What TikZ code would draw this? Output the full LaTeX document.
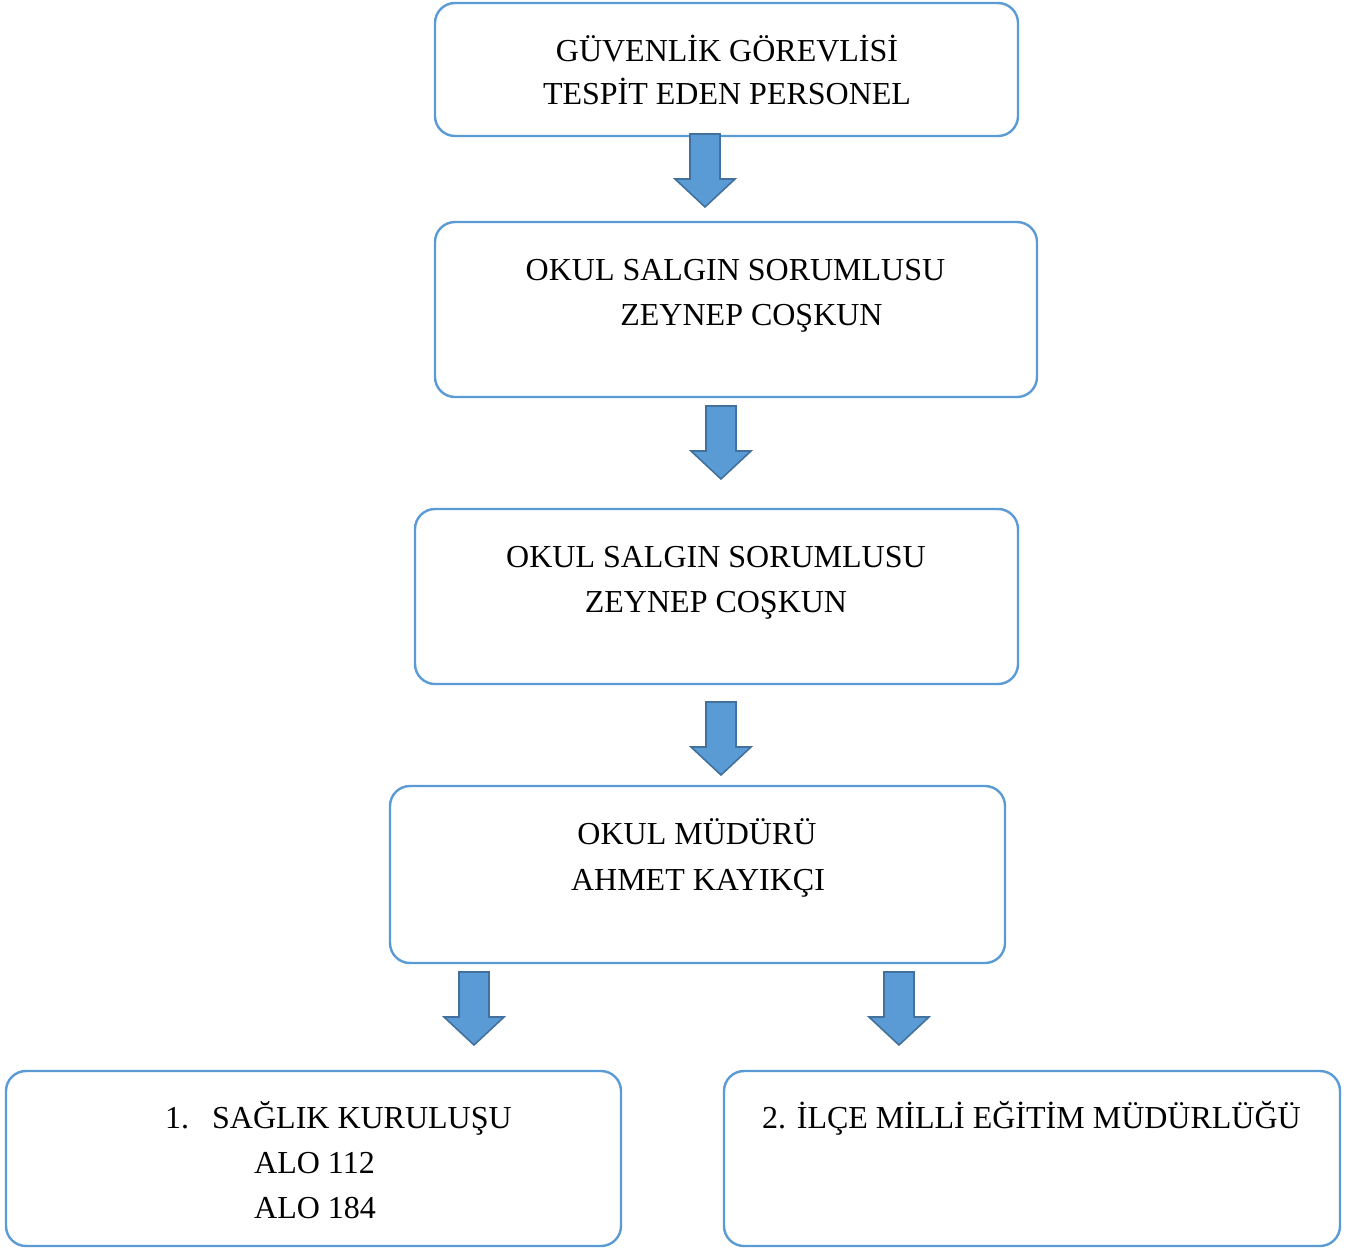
\documentclass[tikz,border=0pt]{standalone}
\usepackage{fontspec}
\setmainfont{Liberation Serif}
\definecolor{boxblue}{HTML}{5B9BD5}
\definecolor{arrowedge}{HTML}{41719C}
\begin{document}
\begin{tikzpicture}[x=1pt,y=-1pt,
  flowbox/.style={draw=boxblue, line width=2.4pt, rounded corners=20pt, fill=white},
  txt/.style={font=\fontsize{32}{45}\selectfont, inner sep=0pt, anchor=base, text=black},
  txtw/.style={txt, anchor=base west},
  downarrow/.pic={\draw[fill=boxblue, draw=arrowedge, line width=1.6pt, line join=miter]
     (-15,0) -- (15,0) -- (15,45) -- (30,45) -- (0,73) -- (-30,45) -- (-15,45) -- cycle;}]
\useasboundingbox (0,0) rectangle (1346,1248);
% boxes
\draw[flowbox] (435,3) rectangle (1018,136) coordinate (b1end);
\node (b1) at (726.5,69.5) {};
\draw[flowbox] (435,222) rectangle (1037,397);
\node (b2) at (736,309.5) {};
\draw[flowbox] (415,509) rectangle (1018,684);
\node (b3) at (716.5,596.5) {};
\draw[flowbox] (390,786) rectangle (1005,963);
\node (b4) at (697.5,874.5) {};
\draw[flowbox] (6,1071) rectangle (621,1246);
\node (b5) at (313.5,1158.5) {};
\draw[flowbox] (724,1071) rectangle (1340,1246);
\node (b6) at (1032,1158.5) {};
% texts
\node[txt] (t1a) at (727,61) {GÜVENLİK GÖREVLİSİ};
\node[txt] (t1b) at (727,104) {TESPİT EDEN PERSONEL};
\node[txt] (t2a) at (735.5,280) {OKUL SALGIN SORUMLUSU};
\node[txt] (t2b) at (751.5,325) {ZEYNEP COŞKUN};
\node[txt] (t3a) at (716,567) {OKUL SALGIN SORUMLUSU};
\node[txt] (t3b) at (716,612) {ZEYNEP COŞKUN};
\node[txt] (t4a) at (697,844) {OKUL MÜDÜRÜ};
\node[txt] (t4b) at (698,890) {AHMET KAYIKÇI};
\node[txtw] (t5n) at (165,1128) {1.};
\node[txtw] (t5a) at (212,1128) {SAĞLIK KURULUŞU};
\node[txtw] (t5b) at (254,1173) {ALO 112};
\node[txtw] (t5c) at (254,1218) {ALO 184};
\node[txt] (t6a) at (1031.5,1128) {2. İLÇE MİLLİ EĞİTİM MÜDÜRLÜĞÜ};
% arrows
\pic (a1) at (705,134) {downarrow};
\pic (a2) at (721,406) {downarrow};
\pic (a3) at (721,702) {downarrow};
\pic (a4) at (474,972) {downarrow};
\pic (a5) at (899,972) {downarrow};
\end{tikzpicture}
\end{document}
